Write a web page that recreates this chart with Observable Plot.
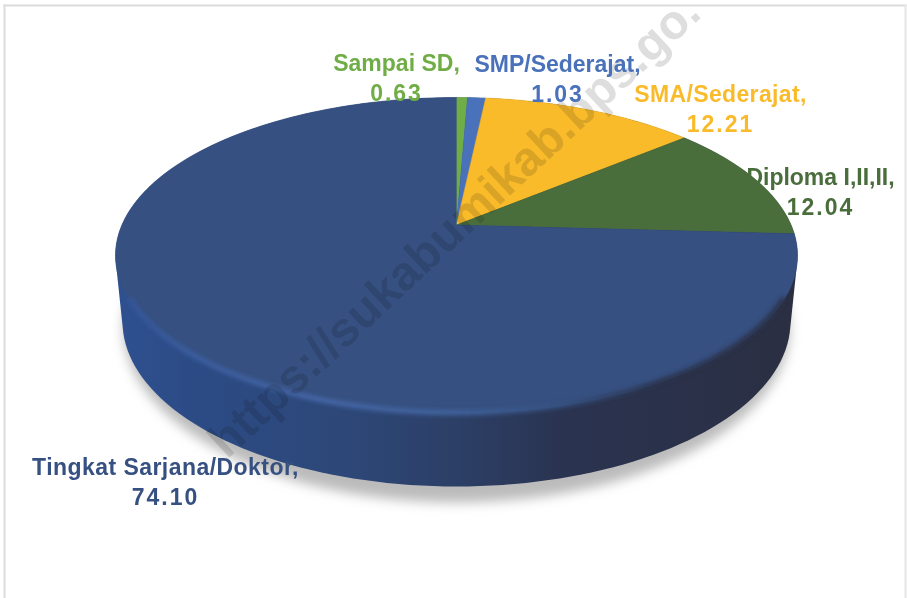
<!DOCTYPE html>
<html>
<head>
<meta charset="utf-8">
<style>html,body{margin:0;padding:0;background:#fff;overflow:hidden}svg{display:block}</style>
<script src="https://cdn.jsdelivr.net/npm/d3@7"></script>
<script src="https://cdn.jsdelivr.net/npm/@observablehq/plot@0.6"></script>
</head>
<body>
<script>
// Data
const categories = ["Sampai SD", "SMP/Sederajat", "SMA/Sederajat", "Diploma I,II,II", "Tingkat Sarjana/Doktor"];
const values = [0.63, 1.03, 12.21, 12.04, 74.10];
const valueLabels = ["0.63", "1.03", "12.21", "12.04", "74.10"];
const colors = ["#70ad47", "#4a72ba", "#fabb2b", "#4a6d3c", "#365081"];
const watermark = "https://sukabumikab.bps.go.";

// Pie geometry
const W = 907, H = 598;
const pxX = 341, pxY = 158, cx = 456, cy = 255;   // pixels per unit, ellipse centre
const frame = {top: 5, left: 4, right: 2};
const tilt = 0.193;                                // perspective shift of the pie's centre
const total = d3.sum(values);
const base = {rx: 334 / pxX, ry: 165 / pxY, cy: (cy - 321) / pxY};

// Perspective map of the unit disc onto the top face (keeps the rim on the ellipse)
const persp = ([u, v]) => {
  const w = 1 + tilt * v;
  return [u * Math.sqrt(1 - tilt * tilt) / w, (v + tilt) / w];
};
const rim = a => persp([Math.sin(a), Math.cos(a)]);
const turn = f => f * 2 * Math.PI;

let acc = 0;
const slices = categories.map((name, i) => {
  const start = acc / total; acc += values[i]; const end = acc / total;
  return {name, start, end, mid: rim(turn((start + end) / 2))};
});
const wedgeRows = slices.flatMap(s => {
  const n = Math.max(3, Math.ceil((s.end - s.start) * 360));
  const arc = d3.range(n + 1).map(k => rim(turn(s.start + (s.end - s.start) * k / n)));
  return [persp([0, 0]), ...arc].map(([x, y]) => ({name: s.name, x, y}));
});

// Layout of the labels: wanted centre of each two-line label, in pixels, and spacing
const labelCentres = [[396, 78], [557, 79], [720, 109], [820, 192], [165, 482]];
const nameSpacing = [0, 0, 0.35, 0, 0.45];
const lineGap = 15;

// Ellipses
const ring = (rx, ry, y0, from = 0, to = 360) =>
  d3.range(from, to + 1, 2).map(d => {
    const a = d * Math.PI / 180;
    return [rx * Math.sin(a), y0 + ry * Math.cos(a)];
  });
const sideRows = d3.polygonHull([...ring(1, 1, 0), ...ring(base.rx, base.ry, base.cy)]).map(([x, y]) => ({x, y}));
const shadowRows = ring(333 / pxX, 174 / pxY, (cy - 328) / pxY).map(([x, y]) => ({x, y}));
const frontRim = ring(0.995, 0.99, -0.006, 106, 254).map(([x, y]) => ({x, y}));

// Shared SVG definitions, added as a function mark
const defs = () => {
  const ns = "http://www.w3.org/2000/svg";
  const d = document.createElementNS(ns, "defs");
  d.innerHTML = `
    <linearGradient id="sideGrad" x1="0" x2="1" y1="0" y2="0">
      <stop offset="0" stop-color="#2f5090"/><stop offset="0.12" stop-color="#2c4b85"/>
      <stop offset="0.35" stop-color="#2d4777"/><stop offset="0.5" stop-color="#2c3f66"/>
      <stop offset="0.66" stop-color="#2a3350"/><stop offset="1" stop-color="#2a2f42"/>
    </linearGradient>
    <linearGradient id="bevelGrad" gradientUnits="userSpaceOnUse" x1="115" x2="797" y1="0" y2="0">
      <stop offset="0" stop-color="#33549a"/><stop offset="0.1" stop-color="#3a5d9f"/>
      <stop offset="0.3" stop-color="#4567a8"/><stop offset="0.5" stop-color="#40629c"/>
      <stop offset="0.65" stop-color="#35507f"/><stop offset="0.8" stop-color="#2a3149"/>
      <stop offset="1" stop-color="#2a3149"/>
    </linearGradient>
    <filter id="blurWide" x="-10%" y="-10%" width="120%" height="125%"><feGaussianBlur stdDeviation="6"/></filter>
    <filter id="blurThin" x="-5%" y="-5%" width="110%" height="110%"><feGaussianBlur stdDeviation="2"/></filter>`;
  return d;
};
const withFilter = id => (index, scales, channels, dims, ctx, next) => {
  const g = next(index, scales, channels, dims, ctx);
  g.setAttribute("filter", `url(#${id})`);
  return g;
};
const withSpacing = px => (index, scales, channels, dims, ctx, next) => {
  const g = next(index, scales, channels, dims, ctx);
  g.style.letterSpacing = `${px}px`;
  return g;
};

const labelMarks = slices.flatMap((s, i) => {
  const row = [{x: s.mid[0], y: s.mid[1]}];
  const dx = labelCentres[i][0] - (cx + s.mid[0] * pxX);
  const dy = labelCentres[i][1] - (cy - s.mid[1] * pxY);
  const common = {x: "x", y: "y", dx, fontFamily: "Liberation Sans", fontWeight: 700, fontSize: 23, fill: colors[i], textAnchor: "middle", lineAnchor: "middle"};
  return [
    Plot.text(row, {...common, text: () => categories[i] + ",", dy: dy - lineGap, render: withSpacing(nameSpacing[i])}),
    Plot.text(row, {...common, text: () => valueLabels[i], dy: dy + lineGap, render: withSpacing(2)})
  ];
});

const chart = Plot.plot({
  width: W, height: H,
  marginTop: frame.top, marginLeft: frame.left, marginRight: frame.right, marginBottom: 0,
  x: {domain: [(frame.left - cx) / pxX, (W - frame.right - cx) / pxX], axis: null},
  y: {domain: [(cy - H) / pxY, (cy - frame.top) / pxY], axis: null},
  color: {domain: categories, range: colors},
  style: {background: "#fff"},
  marks: [
    defs,
    Plot.frame({anchor: "top", stroke: "#dcdcdc", strokeWidth: 2}),
    Plot.frame({anchor: "left", stroke: "#dcdcdc", strokeWidth: 2}),
    Plot.frame({anchor: "right", stroke: "#e6e6e6", strokeWidth: 2}),
    Plot.line(shadowRows, {x: "x", y: "y", fill: "#bbbbbb", stroke: "none", render: withFilter("blurWide")}),
    Plot.line(sideRows, {x: "x", y: "y", fill: "url(#sideGrad)", stroke: "none"}),
    Plot.line(wedgeRows, {x: "x", y: "y", z: "name", fill: "name", stroke: "name", strokeWidth: 0.6}),
    Plot.line(frontRim, {x: "x", y: "y", stroke: "url(#bevelGrad)", strokeWidth: 5, render: withFilter("blurThin")}),
    Plot.text([{x: (216 - cx) / pxX, y: (cy - 448) / pxY}], {
      x: "x", y: "y", text: () => watermark, rotate: -43, textAnchor: "start",
      fontFamily: "Liberation Sans", fontWeight: 700, fontSize: 48, fill: "#dedede", mixBlendMode: "multiply"
    }),
    ...labelMarks
  ]
});
document.body.appendChild(chart);
</script>
</body>
</html>
